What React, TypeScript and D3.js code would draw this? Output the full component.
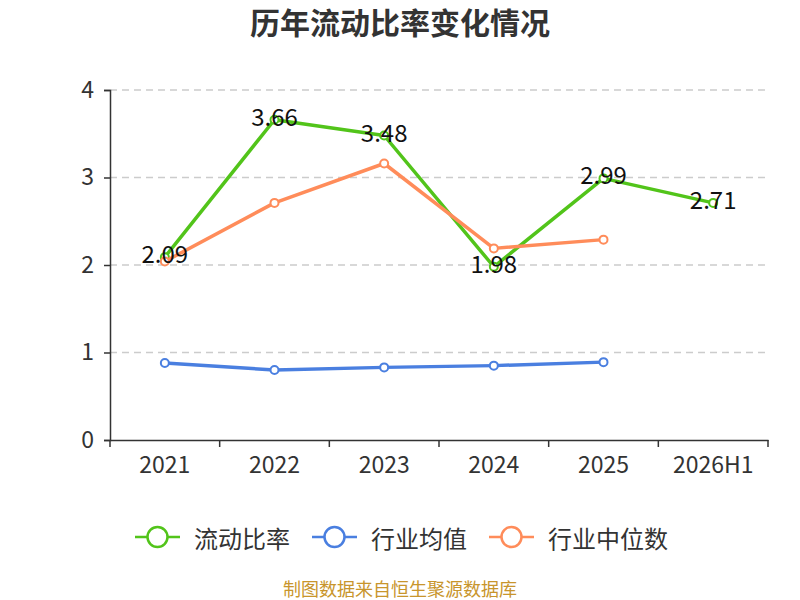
import { useEffect, useRef } from 'react';
import * as d3 from 'd3';

const categories = ['2021', '2022', '2023', '2024', '2025', '2026H1'];
const currentRatio = [2.09, 3.66, 3.48, 1.98, 2.99, 2.71];
const industryMean = [0.88, 0.8, 0.83, 0.85, 0.89];
const industryMedian = [2.04, 2.71, 3.16, 2.19, 2.29];
const yTicks = [0, 1, 2, 3, 4];

const seriesList = [
  { name: '流动比率', values: currentRatio, color: '#52c41a', labels: true },
  { name: '行业均值', values: industryMean, color: '#4a7fe0', labels: false },
  { name: '行业中位数', values: industryMedian, color: '#ff8c5a', labels: false },
];

const FONT = '"Microsoft YaHei", "Noto Sans CJK SC", "Noto Sans", sans-serif';

export default function App() {
  const svgRef = useRef<SVGSVGElement>(null);
  const width = 800;
  const height = 600;

  useEffect(() => {
    if (!svgRef.current) return;
    const svg = d3.select(svgRef.current);
    svg.selectAll('*').remove();

    const left = 110, right = 768, top = 90, bottom = 440;

    const x = d3.scaleBand<string>().domain(categories).range([left, right]);
    const y = d3.scaleLinear().domain([0, 4]).range([bottom, top]);
    const cx = (i: number) => (x(categories[i]) || 0) + x.bandwidth() / 2;

    // title
    svg.append('text')
      .attr('x', 400).attr('y', 34)
      .attr('text-anchor', 'middle')
      .attr('font-family', FONT)
      .attr('font-size', 30).attr('font-weight', 'bold')
      .attr('fill', '#333')
      .text('历年流动比率变化情况');

    // grid
    svg.append('g').selectAll('line')
      .data(yTicks.filter(t => t > 0))
      .enter().append('line')
      .attr('x1', left).attr('x2', right)
      .attr('y1', d => y(d)).attr('y2', d => y(d))
      .attr('stroke', '#ccc').attr('stroke-width', 1.5)
      .attr('stroke-dasharray', '7,5');

    // y axis
    const yAxis = svg.append('g')
      .attr('transform', `translate(${left},0)`)
      .call(d3.axisLeft(y).tickValues(yTicks).tickSize(6).tickPadding(10).tickFormat(d3.format('d')));
    yAxis.select('.domain').attr('stroke', '#333').attr('stroke-width', 1.5);
    yAxis.selectAll('.tick line').attr('stroke', '#333').attr('stroke-width', 1.5);
    yAxis.selectAll('.tick text')
      .attr('font-family', FONT).attr('font-size', 23).attr('fill', '#333');

    // x axis
    const xAxis = svg.append('g')
      .attr('transform', `translate(0,${bottom})`)
      .call(d3.axisBottom(x).tickSize(0).tickPadding(17));
    xAxis.select('.domain').attr('stroke', '#333').attr('stroke-width', 1.5);
    xAxis.selectAll('.tick text')
      .attr('font-family', FONT).attr('font-size', 23).attr('fill', '#333');
    // boundary ticks between bands
    xAxis.selectAll('.bticks')
      .data(d3.range(categories.length + 1))
      .enter().append('line')
      .attr('x1', i => left + i * x.bandwidth())
      .attr('x2', i => left + i * x.bandwidth())
      .attr('y1', 0).attr('y2', 7)
      .attr('stroke', '#333').attr('stroke-width', 1.5);

    const line = d3.line<number>()
      .x((_, i) => cx(i))
      .y(d => y(d));

    seriesList.forEach(s => {
      svg.append('path')
        .datum(s.values)
        .attr('d', line)
        .attr('fill', 'none')
        .attr('stroke', s.color)
        .attr('stroke-width', 3.5)
        .attr('stroke-linejoin', 'round');
      svg.append('g').selectAll('circle')
        .data(s.values)
        .enter().append('circle')
        .attr('cx', (_, i) => cx(i))
        .attr('cy', d => y(d))
        .attr('r', 4)
        .attr('fill', '#fff')
        .attr('stroke', s.color)
        .attr('stroke-width', 2);
    });

    // data labels
    seriesList.filter(s => s.labels).forEach(s => {
      svg.append('g').selectAll('text')
        .data(s.values)
        .enter().append('text')
        .attr('x', (_, i) => cx(i))
        .attr('y', d => y(d) + 6)
        .attr('text-anchor', 'middle')
        .attr('font-family', FONT)
        .attr('font-size', 24)
        .attr('fill', '#111')
        .text(d => d.toFixed(2));
    });

    // legend
    const legendX = [135, 312, 489];
    seriesList.forEach((s, i) => {
      const g = svg.append('g').attr('transform', `translate(${legendX[i]},537)`);
      g.append('line').attr('x1', 0).attr('x2', 45).attr('y1', 0).attr('y2', 0)
        .attr('stroke', s.color).attr('stroke-width', 2.5);
      g.append('circle').attr('cx', 22.5).attr('cy', 0).attr('r', 10)
        .attr('fill', '#fff').attr('stroke', s.color).attr('stroke-width', 2.5);
      g.append('text').attr('x', 59).attr('y', 0)
        .attr('dominant-baseline', 'central')
        .attr('font-family', FONT).attr('font-size', 24).attr('fill', '#333')
        .text(s.name);
    });

    // footer
    svg.append('text')
      .attr('x', 400).attr('y', 596)
      .attr('text-anchor', 'middle')
      .attr('font-family', FONT).attr('font-size', 18)
      .attr('fill', '#c8952c')
      .text('制图数据来自恒生聚源数据库');
  }, []);

  return (
    <div style={{ position: 'absolute', left: 0, top: 0 }}>
      <svg ref={svgRef} width={width} height={height} style={{ display: 'block', background: '#fff' }} />
    </div>
  );
}
